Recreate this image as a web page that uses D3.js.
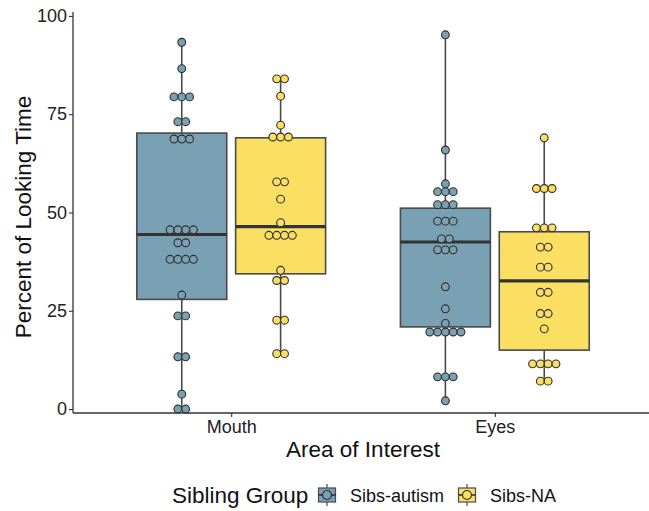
<!DOCTYPE html>
<html>
<head>
<meta charset="utf-8">
<script src="https://cdn.jsdelivr.net/npm/d3@7"></script>
<style>
  body { margin: 0; background: #fff; }
  text { font-family: "Liberation Sans", Arial, sans-serif; }
</style>
</head>
<body>
<div id="viz"></div>
<script>
// Looking time by area of interest, split by sibling group.
// Box = five-number summary, dots = binned dotplot rows (value, count).

var areas = ["Mouth", "Eyes"];
var groups = ["Sibs-autism", "Sibs-NA"];
var yTicks = [0, 25, 50, 75, 100];

// box stats: [low whisker, q1, median, q3, high whisker]
var boxMouthAutism = [0, 27.9, 44.4, 70.2, 93.3];
var boxMouthNA     = [14.1, 34.4, 46.4, 69.0, 84.0];
var boxEyesAutism  = [2.1, 20.9, 42.5, 51.1, 95.2];
var boxEyesNA      = [7.1, 15.0, 32.6, 45.1, 69.0];

// dot rows: [value, number of dots in the row]
var dotsMouthAutism = [[93.3,1],[86.6,1],[79.4,3],[73.1,2],[68.7,3],[45.6,4],[42.3,2],
                       [38.1,4],[29.0,1],[23.7,2],[13.3,2],[3.8,1],[0,2]];
var dotsMouthNA     = [[84.0,2],[79.6,1],[72.2,1],[69.2,3],[57.8,2],[53.4,1],[47.4,1],
                       [44.2,4],[35.3,1],[32.7,2],[22.6,2],[14.1,2]];
var dotsEyesAutism  = [[95.2,1],[65.9,1],[57.3,1],[55.3,3],[52.0,3],[47.8,3],[43.3,2],
                       [40.5,3],[31.1,1],[25.5,1],[21.8,1],[19.6,5],[8.2,3],[2.1,1]];
var dotsEyesNA      = [[69.0,1],[56.1,3],[46.1,3],[41.2,2],[36.1,2],[29.7,2],[24.3,2],
                       [20.4,1],[11.5,4],[7.1,2]];

var fills = ["#7aa0b3", "#fbdf63"];
var lineCol = "#4a4a4a";

var W = 649, H = 511;
var plotLeft = 73, plotRight = 653, plotTop = 12, plotBottom = 413;

var sets = [
    {area: "Mouth", group: "Sibs-autism", box: boxMouthAutism, dots: dotsMouthAutism},
    {area: "Mouth", group: "Sibs-NA",     box: boxMouthNA,     dots: dotsMouthNA},
    {area: "Eyes",  group: "Sibs-autism", box: boxEyesAutism,  dots: dotsEyesAutism},
    {area: "Eyes",  group: "Sibs-NA",     box: boxEyesNA,      dots: dotsEyesNA}
];

var svg = d3.select("#viz").append("svg")
    .attr("width", W).attr("height", H);

var x = d3.scalePoint().domain(areas).range([plotLeft, plotRight]).padding(0.6);
var dodge = x.step() * 0.75;
var xg = d3.scaleBand().domain(groups).range([-dodge/2, dodge/2]);
var y = d3.scaleLinear().domain([-1, 101]).range([plotBottom, plotTop]);
var color = d3.scaleOrdinal().domain(groups).range(fills);

var boxW = xg.bandwidth() * 0.91;
var dotR = 3.9;

var plot = svg.append("g");

sets.forEach(function(s) {
    var cx = x(s.area) + xg(s.group) + xg.bandwidth()/2;
    var b = s.box;
    var g = plot.append("g");
    g.append("line")
        .attr("x1", cx).attr("x2", cx)
        .attr("y1", y(b[4])).attr("y2", y(b[3]))
        .attr("stroke", lineCol).attr("stroke-width", 1.6);
    g.append("line")
        .attr("x1", cx).attr("x2", cx)
        .attr("y1", y(b[1])).attr("y2", y(b[0]))
        .attr("stroke", lineCol).attr("stroke-width", 1.6);
    g.append("rect")
        .attr("x", cx - boxW/2).attr("width", boxW)
        .attr("y", y(b[3])).attr("height", y(b[1]) - y(b[3]))
        .attr("fill", color(s.group))
        .attr("stroke", lineCol).attr("stroke-width", 1.6);
    g.append("line")
        .attr("x1", cx - boxW/2).attr("x2", cx + boxW/2)
        .attr("y1", y(b[2])).attr("y2", y(b[2]))
        .attr("stroke", "#333").attr("stroke-width", 3.2);

    // dotplot rows, centred on the box
    s.dots.forEach(function(r) {
        for (var i = 0; i < r[1]; i++) {
            g.append("circle")
                .attr("cx", cx + (i - (r[1]-1)/2) * dotR * 2)
                .attr("cy", y(r[0]))
                .attr("r", dotR)
                .attr("fill", color(s.group))
                .attr("stroke", "#2e2e2e").attr("stroke-width", 1.1);
        }
    });
});

// axes
var yAxis = svg.append("g").attr("transform", "translate(" + plotLeft + ",0)")
    .call(d3.axisLeft(y).tickValues(yTicks).tickSize(4).tickPadding(2));
var xAxis = svg.append("g").attr("transform", "translate(0," + plotBottom + ")")
    .call(d3.axisBottom(x).tickSize(4).tickPadding(3));
[yAxis, xAxis].forEach(function(a) {
    a.select(".domain").attr("stroke", "#333").attr("stroke-width", 1.3);
    a.selectAll(".tick line").attr("stroke", "#333").attr("stroke-width", 1.1);
    a.selectAll(".tick text").attr("fill", "#222").style("font-size", "18px")
        .style("font-family", "Liberation Sans, Arial, sans-serif");
});
yAxis.select(".domain").attr("d", "M0," + plotTop + "V" + plotBottom);
xAxis.select(".domain").attr("d", "M" + plotLeft + ",0H" + plotRight);

svg.append("text")
    .attr("transform", "translate(31,217) rotate(-90)")
    .attr("text-anchor", "middle")
    .style("font-size", "22.5px").attr("fill", "#111")
    .text("Percent of Looking Time");

svg.append("text")
    .attr("x", 363).attr("y", 457)
    .attr("text-anchor", "middle")
    .style("font-size", "22.5px").attr("fill", "#111")
    .text("Area of Interest");

// legend
var leg = svg.append("g").attr("transform", "translate(0,495)");
leg.append("text").attr("x", 172).attr("y", 8)
    .style("font-size", "22.5px").attr("fill", "#111")
    .text("Sibling Group");
var keyX = [327, 467];
var labX = [350, 490];
groups.forEach(function(gname, i) {
    var k = leg.append("g").attr("transform", "translate(" + keyX[i] + ",0)");
    k.append("line").attr("x1", 0).attr("x2", 0).attr("y1", -11).attr("y2", 11)
        .attr("stroke", lineCol).attr("stroke-width", 1.2);
    k.append("rect").attr("x", -8.5).attr("y", -7).attr("width", 17).attr("height", 14)
        .attr("fill", color(gname)).attr("stroke", lineCol).attr("stroke-width", 1.2);
    k.append("line").attr("x1", -8.5).attr("x2", 8.5).attr("y1", 0).attr("y2", 0)
        .attr("stroke", "#333").attr("stroke-width", 1.6);
    k.append("circle").attr("r", 4.5).attr("fill", color(gname))
        .attr("stroke", "#2e2e2e").attr("stroke-width", 1.1);
    leg.append("text").attr("x", labX[i]).attr("y", 7)
        .style("font-size", "18px").attr("fill", "#111")
        .text(gname);
});
</script>
</body>
</html>
